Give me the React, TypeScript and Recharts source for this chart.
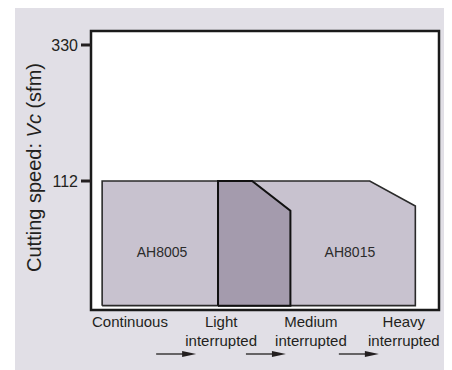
import React from "react";
import {
  ComposedChart,
  Area,
  XAxis,
  YAxis,
  CartesianGrid,
  ReferenceArea,
  ReferenceDot,
} from "recharts";

// schematic chart: x runs 0..100 across the plot, y is a log scale
const xDomain = [0, 100];
const yDomain = [40.19, 368.8];
const yTicks = [112, 330];

const xTicks = [11.2, 37.4, 63.2, 89.9];
const xTickLines = [
  ["Continuous"],
  ["Light", "interrupted"],
  ["Medium", "interrupted"],
  ["Heavy", "interrupted"],
];

const baseSpeed = 41.6;

const ah8015Shape = [
  { x: 36.5, v: 41.6 },
  { x: 36.5, v: 112 },
  { x: 80.1, v: 112 },
  { x: 93.2, v: 91.8 },
  { x: 93.2, v: 41.6 },
  { x: 36.5, v: 41.6 },
];

const ah8005Shape = [
  { x: 3.2, v: 41.6 },
  { x: 3.2, v: 112 },
  { x: 36.5, v: 112 },
  { x: 36.5, v: 41.6 },
  { x: 3.2, v: 41.6 },
];

const overlapShape = [
  { x: 36.5, v: 41.6 },
  { x: 36.5, v: 112 },
  { x: 46.3, v: 112 },
  { x: 57.3, v: 88.5 },
  { x: 57.3, v: 41.6 },
  { x: 36.5, v: 41.6 },
];

const gradeLabels = [
  { name: "AH8005", x: 20.4, v: 63.5 },
  { name: "AH8015", x: 74.4, v: 63.5 },
];

const FONT = '"Liberation Sans", Arial, Helvetica, sans-serif';
const INK = "#231f20";
const PANEL = "#e1dfe6";

const XTick = (props: any) => {
  const { x, y, index } = props;
  const lines = xTickLines[index] || [];
  return (
    <g>
      <text
        x={x}
        y={y}
        textAnchor="middle"
        fontSize={15}
        fill={INK}
        fontFamily={FONT}
      >
        {lines.map((l, i) => (
          <tspan key={i} x={x} dy={i === 0 ? 16.5 : 19}>
            {l}
          </tspan>
        ))}
      </text>
      {index > 0 && (
        <g>
          <line
            x1={x - 65}
            x2={x - 38}
            y1={y + 44}
            y2={y + 44}
            stroke={INK}
            strokeWidth={1.3}
          />
          <polygon
            points={`${x - 39},${y + 41} ${x - 25},${y + 44} ${x - 39},${y + 47}`}
            fill={INK}
          />
        </g>
      )}
    </g>
  );
};

const YLabel = (props: any) => {
  const { viewBox } = props;
  const cx = viewBox.x + 41;
  const cy = viewBox.y + viewBox.height / 2 - 3;
  return (
    <text
      x={cx}
      y={cy}
      transform={`rotate(-90, ${cx}, ${cy})`}
      textAnchor="middle"
      fontSize={20}
      fill={INK}
      fontFamily={FONT}
    >
      Cutting speed: <tspan fontStyle="italic">Vc</tspan> (sfm)
    </text>
  );
};

const gradeLabel = (name: string) => (props: any) => {
  const { viewBox } = props;
  const cx = viewBox.x + viewBox.width / 2;
  const cy = viewBox.y + viewBox.height / 2;
  return (
    <text
      x={cx}
      y={cy}
      dy="0.36em"
      textAnchor="middle"
      fontSize={14}
      fill="#2b2b2b"
      fontFamily={FONT}
    >
      {name}
    </text>
  );
};

const App: React.FC = () => {
  return (
    <div
      style={{
        position: "relative",
        width: 452,
        height: 370,
        margin: "-8px 0 0 -8px",
        background: "#ffffff",
        overflow: "hidden",
      }}
    >
      <div
        style={{
          position: "absolute",
          left: 0,
          top: 0,
          width: 5,
          height: 370,
          background: PANEL,
        }}
      />
      <div
        style={{
          position: "absolute",
          left: 15,
          top: 0,
          width: 437,
          height: 370,
          background: PANEL,
        }}
      />
      <div style={{ position: "absolute", left: 0, top: 0 }}>
        <ComposedChart
          width={452}
          height={370}
          margin={{ top: 31, right: 13, left: 0, bottom: 0 }}
        >
          <CartesianGrid
            horizontal={false}
            vertical={false}
            fill="#ffffff"
            stroke="none"
          />
          <XAxis
            dataKey="x"
            type="number"
            domain={xDomain}
            ticks={xTicks}
            interval={0}
            allowDataOverflow
            height={60}
            tickSize={0}
            tickMargin={0}
            axisLine={false}
            tickLine={false}
            tick={<XTick />}
          />
          <YAxis
            dataKey="v"
            type="number"
            scale="log"
            domain={yDomain}
            ticks={yTicks}
            interval={0}
            allowDataOverflow
            width={91}
            axisLine={false}
            tickSize={10}
            tickMargin={3}
            tickLine={{ stroke: INK, strokeWidth: 3 }}
            tick={{ fill: INK, fontSize: 16, fontFamily: FONT }}
            label={<YLabel />}
          />
          <Area
            data={ah8015Shape}
            dataKey="v"
            type="linear"
            baseValue={baseSpeed}
            fill="#c8c2cf"
            fillOpacity={1}
            stroke="#2a2a2a"
            strokeWidth={1.6}
            dot={false}
            activeDot={false}
            isAnimationActive={false}
          />
          <Area
            data={ah8005Shape}
            dataKey="v"
            type="linear"
            baseValue={baseSpeed}
            fill="#c8c2cf"
            fillOpacity={1}
            stroke="#2a2a2a"
            strokeWidth={1.6}
            dot={false}
            activeDot={false}
            isAnimationActive={false}
          />
          <Area
            data={overlapShape}
            dataKey="v"
            type="linear"
            baseValue={baseSpeed}
            fill="#a49bad"
            fillOpacity={1}
            stroke="#111111"
            strokeWidth={2}
            dot={false}
            activeDot={false}
            isAnimationActive={false}
          />
          {gradeLabels.map((g) => (
            <ReferenceDot
              key={g.name}
              x={g.x}
              y={g.v}
              r={1}
              fill="none"
              stroke="none"
              label={gradeLabel(g.name)}
            />
          ))}
          <ReferenceArea
            x1={xDomain[0]}
            x2={xDomain[1]}
            y1={yDomain[0]}
            y2={yDomain[1]}
            fill="none"
            stroke="#1a1a1a"
            strokeWidth={2.5}
            ifOverflow="visible"
          />
        </ComposedChart>
      </div>
    </div>
  );
};

export default App;
